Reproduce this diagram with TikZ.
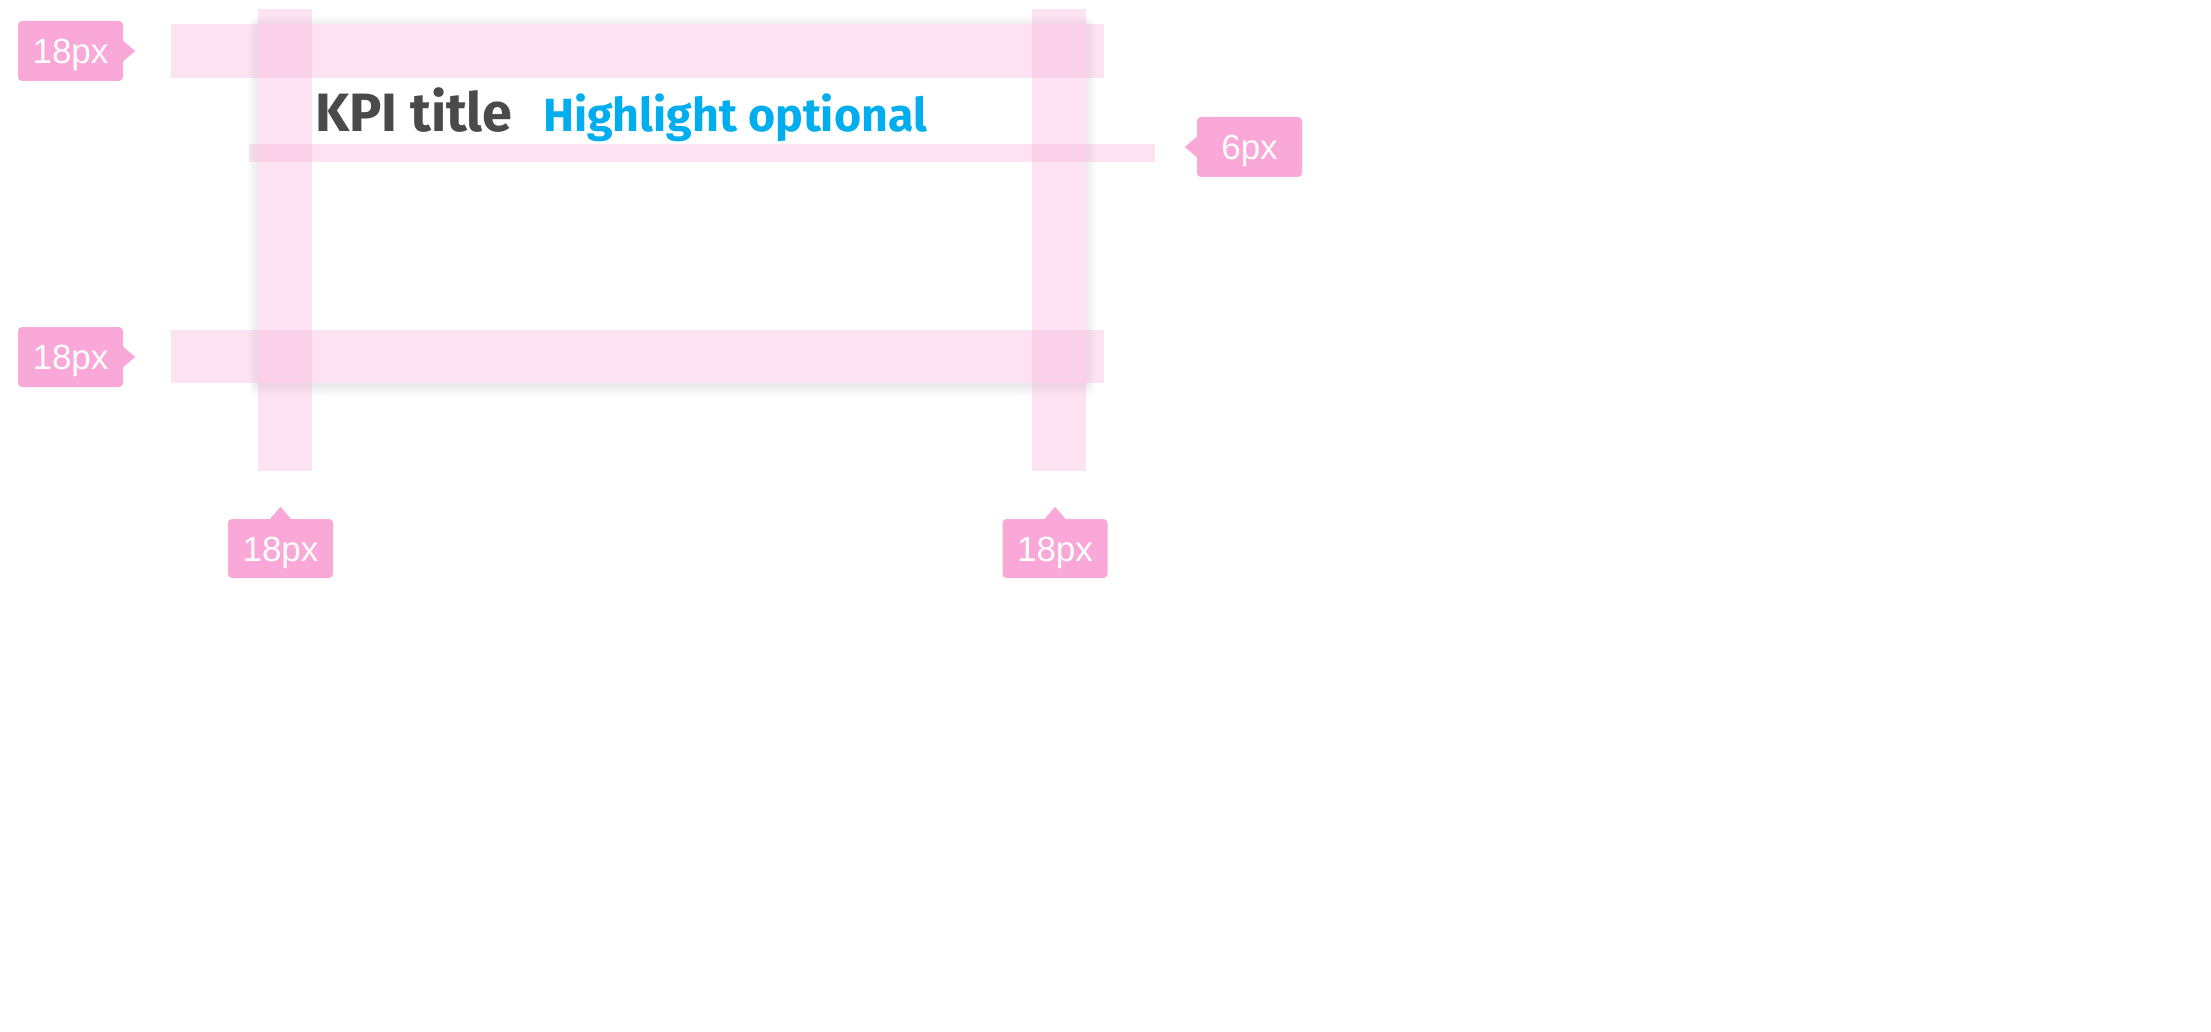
\documentclass[tikz,border=0pt]{standalone}
\usepackage{fontspec}
\setmainfont{Liberation Sans}
\newfontfamily\firafont{Fira Sans}
\usetikzlibrary{calc}
\definecolor{labpink}{HTML}{F9A8D8}
\definecolor{titlegrey}{HTML}{4A4A4A}
\definecolor{hlblue}{HTML}{00AEEF}
\tikzset{
  band/.style={fill=labpink, fill opacity=0.32},
  pxlabel/.style={fill=labpink, rounded corners=4pt, minimum width=105pt, minimum height=60pt,
    inner sep=0pt, text height=25pt, text depth=0pt, text=white, font=\fontsize{35}{35}\selectfont},
  tip/.style={fill=labpink},
  kpititle/.style={inner sep=0pt, anchor=base west, text=titlegrey, font=\firafont\bfseries\fontsize{54}{54}\selectfont},
  kpihl/.style={inner sep=0pt, anchor=base west, text=hlblue, font=\firafont\bfseries\fontsize{46.5}{46.5}\selectfont}
}
\begin{document}
\begin{tikzpicture}[x=1pt, y=-1pt]
\useasboundingbox (0,0) rectangle (2211,1032);
\fill[white] (0,0) rectangle (2211,1032);
% card shadow
\foreach \i in {1,...,10}{
  \fill[black, opacity=0.008, rounded corners=\i pt] (258-\i,24-\i+2) rectangle (1086+\i,383+\i+3);
}
\fill[white] (258,24) rectangle (1086,383);
% texts
\node[kpititle] (title) at (315,132) {KPI title};
\node[kpihl] (hl) at (543,132) {Highlight optional};
% bands
\fill[band] (171,24) rectangle (1104,78);
\fill[band] (171,330) rectangle (1104,383);
\fill[band] (249,144) rectangle (1155,162);
\fill[band] (258,9) rectangle (312,471);
\fill[band] (1032,9) rectangle (1086,471);
% labels
\node[pxlabel] (l1) at (70.5,51) {18px};
\fill[tip] ($(l1.east)+(-2,-12)$) -- ($(l1.east)+(12,0)$) -- ($(l1.east)+(-2,12)$) -- cycle;
\node[pxlabel] (l2) at (70.5,357) {18px};
\fill[tip] ($(l2.east)+(-2,-12)$) -- ($(l2.east)+(12,0)$) -- ($(l2.east)+(-2,12)$) -- cycle;
\node[pxlabel] (l3) at (1249.5,147) {6px};
\fill[tip] ($(l3.west)+(2,-12)$) -- ($(l3.west)+(-12,0)$) -- ($(l3.west)+(2,12)$) -- cycle;
\node[pxlabel, minimum height=59pt] (l4) at (280.5,548.5) {18px};
\fill[tip] ($(l4.north)+(-12,2)$) -- ($(l4.north)+(0,-12)$) -- ($(l4.north)+(12,2)$) -- cycle;
\node[pxlabel, minimum height=59pt] (l5) at (1055,548.5) {18px};
\fill[tip] ($(l5.north)+(-12,2)$) -- ($(l5.north)+(0,-12)$) -- ($(l5.north)+(12,2)$) -- cycle;
\end{tikzpicture}
\end{document}
